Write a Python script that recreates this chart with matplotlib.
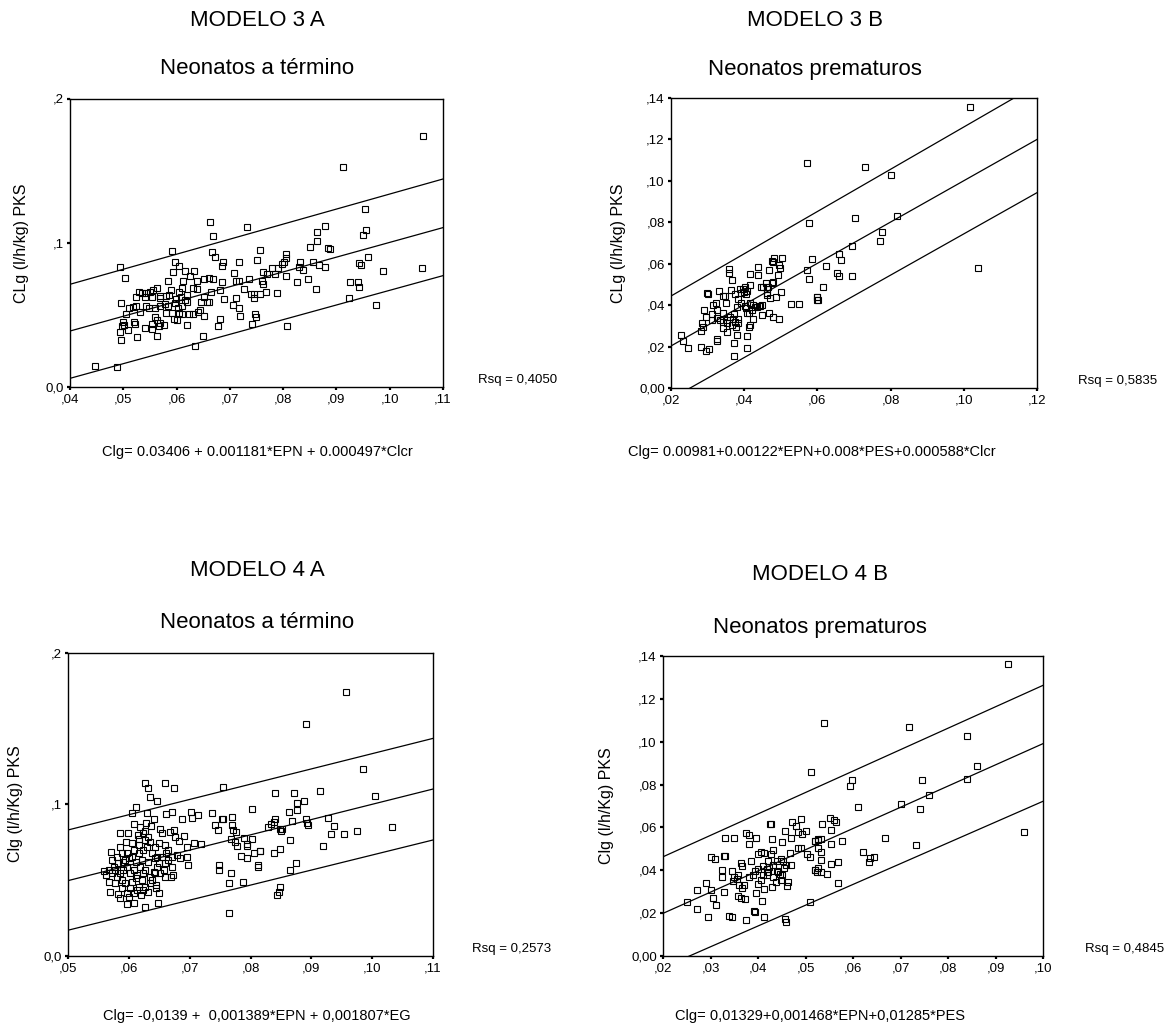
import matplotlib
matplotlib.use("Agg")
import matplotlib.pyplot as plt

plt.rcParams['font.family'] = ['Liberation Sans', 'DejaVu Sans']

W, H = 1176, 1028

# ---------------- data -----------------
tl_points = [
    (0.0447,0.0148),(0.0489,0.0136),(0.0494,0.0832),(0.0503,0.0756),(0.0591,0.0943),
    (0.0663,0.1142),(0.0668,0.1049),(0.0733,0.1107),(0.0666,0.0938),(0.0672,0.0901),
    (0.0688,0.0867),(0.0686,0.0841),(0.0717,0.0867),(0.0756,0.0952),(0.0751,0.0883),
    (0.0597,0.0869),(0.0594,0.0800),(0.0605,0.0841),(0.0616,0.0806),(0.0632,0.0806),
    (0.0626,0.0767),(0.0638,0.0737),(0.0651,0.0749),(0.0661,0.0753),(0.0669,0.0746),
    (0.0686,0.0730),(0.0707,0.0788),(0.0711,0.0737),(0.0718,0.0737),(0.0735,0.0746),
    (0.0762,0.0800),(0.0770,0.0781),(0.0760,0.0737),(0.0763,0.0712),
    (0.0584,0.0733),(0.0613,0.0737),(0.0611,0.0684),(0.0605,0.0656),(0.0631,0.0684),
    (0.0639,0.0679),(0.0619,0.0638),(0.0616,0.0603),(0.0608,0.0626),(0.0598,0.0610),
    (0.0590,0.0670),(0.0585,0.0638),
    (0.0529,0.0659),(0.0536,0.0654),(0.0543,0.0654),(0.0550,0.0661),(0.0556,0.0672),
    (0.0563,0.0684),(0.0569,0.0633),(0.0580,0.0633),(0.0569,0.0615),(0.0554,0.0626),
    (0.0541,0.0622),(0.0523,0.0626),
    (0.0496,0.0582),(0.0510,0.0550),(0.0518,0.0557),(0.0524,0.0564),(0.0532,0.0522),
    (0.0543,0.0562),(0.0549,0.0550),(0.0560,0.0545),(0.0569,0.0564),(0.0579,0.0578),
    (0.0583,0.0564),(0.0597,0.0580),(0.0603,0.0545),(0.0610,0.0559),(0.0619,0.0592),
    (0.0646,0.0587),(0.0657,0.0587),(0.0660,0.0587),(0.0652,0.0624),(0.0665,0.0661),
    (0.0682,0.0670),(0.0689,0.0612),(0.0712,0.0617),(0.0726,0.0679),(0.0740,0.0647),
    (0.0746,0.0647),(0.0746,0.0617),(0.0757,0.0647),(0.0767,0.0661),(0.0705,0.0566),
    (0.0717,0.0548),(0.0719,0.0490),
    (0.0505,0.0506),(0.0500,0.0448),(0.0501,0.0427),(0.0498,0.0421),(0.0509,0.0395),
    (0.0522,0.0437),(0.0520,0.0448),(0.0540,0.0407),(0.0553,0.0437),(0.0554,0.0404),
    (0.0567,0.0423),(0.0569,0.0444),(0.0576,0.0430),(0.0560,0.0488),(0.0563,0.0464),
    (0.0581,0.0515),(0.0591,0.0515),(0.0596,0.0471),(0.0601,0.0462),(0.0605,0.0515),
    (0.0611,0.0506),(0.0624,0.0506),(0.0630,0.0504),(0.0640,0.0522),(0.0644,0.0531),
    (0.0651,0.0490),(0.0681,0.0474),(0.0677,0.0421),(0.0748,0.0506),(0.0749,0.0483),
    (0.0742,0.0437),(0.0619,0.0430),
    (0.0494,0.0384),(0.0496,0.0326),(0.0526,0.0344),(0.0563,0.0354),(0.0649,0.0351),
    (0.0635,0.0284),
    (0.1062,0.1742),(0.0912,0.1527),(0.0954,0.1236),(0.0955,0.1091),(0.0949,0.1056),
    (0.0879,0.1116),(0.0863,0.1072),(0.0863,0.1014),(0.0851,0.0971),(0.0885,0.0961),
    (0.0888,0.0954),(0.0960,0.0901),(0.0942,0.0860),(0.0947,0.0848),(0.0988,0.0806),
    (0.1061,0.0825),
    (0.0805,0.0920),(0.0805,0.0892),(0.0802,0.0864),(0.0797,0.0850),(0.0780,0.0823),
    (0.0791,0.0823),(0.0784,0.0781),(0.0805,0.0772),(0.0832,0.0869),(0.0830,0.0834),
    (0.0837,0.0813),(0.0856,0.0869),(0.0867,0.0843),(0.0879,0.0832),(0.0826,0.0730),
    (0.0847,0.0746),(0.0861,0.0679),(0.0925,0.0730),(0.0940,0.0730),(0.0942,0.0696),
    (0.0923,0.0619),(0.0974,0.0566),(0.0788,0.0652),(0.0807,0.0421),
]

tr_points = [
    (0.0572,0.1088),(0.0578,0.0795),(0.0584,0.0621),(0.0571,0.0568),(0.0578,0.0525),
    (0.0598,0.0441),(0.0600,0.0425),
    (0.0227,0.0256),(0.0232,0.0229),(0.0246,0.0191),(0.0282,0.0196),(0.0295,0.0179),
    (0.0304,0.0188),(0.0325,0.0237),(0.0325,0.0229),(0.0285,0.0315),(0.0287,0.0293),
    (0.0281,0.0277),(0.0291,0.0377),(0.0295,0.0344),(0.0299,0.0457),(0.0302,0.0454),
    (0.0330,0.0468),(0.0314,0.0401),(0.0311,0.0357),(0.0311,0.0328),(0.0327,0.0340),
    (0.0325,0.0377),(0.0323,0.0409),(0.0350,0.0409),(0.0343,0.0364),(0.0341,0.0320),
    (0.0352,0.0269),(0.0358,0.0555),(0.0358,0.0574),(0.0368,0.0521),(0.0372,0.0357),
    (0.0379,0.0393),(0.0372,0.0216),(0.0372,0.0154),(0.0366,0.0304),(0.0361,0.0344),
    (0.0370,0.0331),(0.0375,0.0320),(0.0378,0.0296),(0.0384,0.0312),(0.0382,0.0428),
    (0.0391,0.0457),(0.0389,0.0476),(0.0397,0.0476),(0.0399,0.0463),(0.0402,0.0486),
    (0.0405,0.0454),(0.0409,0.0470),(0.0416,0.0497),(0.0416,0.0409),(0.0416,0.0304),
    (0.0412,0.0296),(0.0409,0.0253),(0.0407,0.0191),(0.0405,0.0386),(0.0402,0.0396),
    (0.0407,0.0360),(0.0414,0.0360),(0.0422,0.0377),(0.0425,0.0333),(0.0423,0.0399),
    (0.0430,0.0393),(0.0434,0.0393),(0.0440,0.0396),(0.0443,0.0396),(0.0448,0.0401),
    (0.0449,0.0352),(0.0416,0.0549),(0.0437,0.0546),(0.0437,0.0586),(0.0446,0.0489),
    (0.0452,0.0489),(0.0460,0.0505),(0.0461,0.0476),(0.0463,0.0457),(0.0461,0.0449),
    (0.0466,0.0489),(0.0470,0.0433),(0.0469,0.0364),(0.0480,0.0344),(0.0496,0.0333),
    (0.0475,0.0505),(0.0480,0.0513),(0.0477,0.0615),(0.0481,0.0626),(0.0480,0.0607),
    (0.0469,0.0570),(0.0495,0.0594),(0.0498,0.0578),(0.0493,0.0546),(0.0504,0.0626),
    (0.0500,0.0465),(0.0486,0.0441),(0.0527,0.0404),(0.0551,0.0404),(0.0384,0.0335),
    (0.0379,0.0256),(0.0352,0.0328),(0.0334,0.0328),(0.0343,0.0288),(0.0348,0.0444),
    (0.0343,0.0444),(0.0352,0.0312),(0.0363,0.0473),(0.0375,0.0454),(0.0390,0.0409),
    (0.1018,0.1355),(0.0730,0.1069),(0.0801,0.1027),(0.0703,0.0822),(0.0818,0.0830),
    (0.0777,0.0751),(0.0771,0.0710),(0.0694,0.0687),(0.0659,0.0649),(0.0664,0.0620),
    (0.0623,0.0591),(0.0653,0.0555),(0.0660,0.0542),(0.0694,0.0542),(0.0615,0.0488),
    (0.0598,0.0439),(0.0602,0.0423),(0.1038,0.0578),
]

bl_points = [
    (0.0957,0.1743),(0.0891,0.1527),(0.0985,0.1235),(0.1004,0.1055),(0.0915,0.1090),
    (0.0840,0.1073),(0.0871,0.1073),(0.0888,0.1020),(0.0877,0.1011),(0.0877,0.0960),
    (0.0863,0.0949),(0.0868,0.0892),(0.0891,0.0901),(0.0893,0.0879),(0.0894,0.0862),
    (0.0927,0.0908),(0.0937,0.0857),(0.0933,0.0804),(0.0953,0.0804),(0.0975,0.0822),
    (0.1032,0.0848),(0.0841,0.0901),(0.0838,0.0886),(0.0833,0.0868),(0.0829,0.0853),
    (0.0848,0.0837),(0.0851,0.0840),(0.0850,0.0826),(0.0865,0.0763),(0.0919,0.0727),
    (0.0816,0.0695),(0.0839,0.0677),(0.0849,0.0708),(0.0812,0.0589),(0.0875,0.0615),
    (0.0865,0.0565),(0.0848,0.0453),(0.0844,0.0402),(0.0847,0.0424),
    (0.0626,0.1143),(0.0632,0.1108),(0.0660,0.1143),(0.0674,0.1108),(0.0635,0.1051),
    (0.0646,0.1020),(0.0754,0.1114),
    (0.0611,0.0980),(0.0605,0.0945),(0.0630,0.0945),(0.0661,0.0936),(0.0671,0.0949),
    (0.0702,0.0952),(0.0713,0.0930),(0.0704,0.0908),(0.0736,0.0945),(0.0753,0.0901),
    (0.0769,0.0919),(0.0803,0.0969),(0.0687,0.0901),
    (0.0609,0.0868),(0.0628,0.0879),(0.0642,0.0901),(0.0637,0.0857),(0.0626,0.0826),
    (0.0623,0.0813),(0.0585,0.0809),(0.0598,0.0813),(0.0596,0.0754),(0.0615,0.0798),
    (0.0617,0.0774),(0.0652,0.0835),(0.0654,0.0809),(0.0668,0.0818),(0.0674,0.0831),
    (0.0676,0.0787),(0.0683,0.0756),(0.0691,0.0789),(0.0696,0.0721),(0.0707,0.0747),
    (0.0718,0.0738),(0.0742,0.0864),(0.0746,0.0831),(0.0754,0.0901),(0.0769,0.0862),
    (0.0772,0.0831),(0.0776,0.0818),(0.0768,0.0769),(0.0775,0.0754),(0.0778,0.0727),
    (0.0790,0.0778),(0.0795,0.0738),(0.0802,0.0769),(0.0795,0.0727),(0.0816,0.0695),
    (0.0805,0.0681),(0.0784,0.0659),(0.0795,0.0644),(0.0812,0.0598),(0.0698,0.0598),
    (0.0748,0.0598),(0.0748,0.0567),(0.0768,0.0547),(0.0764,0.0479),(0.0787,0.0486),
    (0.0670,0.0523),(0.0659,0.0519),(0.0645,0.0468),(0.0649,0.0413),(0.0627,0.0325),
    (0.0609,0.0347),(0.0597,0.0343),(0.0648,0.0347),(0.0765,0.0281),
    (0.0571,0.0686),(0.0560,0.0563),(0.0562,0.0532),(0.0568,0.0486),(0.0569,0.0420),
    (0.0583,0.0409),(0.0586,0.0380),(0.0601,0.0391),(0.0602,0.0446),(0.0616,0.0457),
    (0.0620,0.0402),(0.0632,0.0424),(0.0635,0.0479),(0.0644,0.0446),(0.0581,0.0655),
    (0.0589,0.0677),(0.0594,0.0633),(0.0605,0.0655),(0.0616,0.0677),(0.0623,0.0699),
    (0.0630,0.0721),(0.0635,0.0754),(0.0638,0.0677),(0.0643,0.0644),(0.0649,0.0611),
    (0.0654,0.0655),(0.0661,0.0677),(0.0665,0.0633),(0.0671,0.0655),(0.0679,0.0666),
    (0.0684,0.0644),(0.0695,0.0655),(0.0586,0.0545),(0.0591,0.0567),(0.0597,0.0589),
    (0.0602,0.0545),(0.0608,0.0567),(0.0613,0.0534),(0.0619,0.0589),(0.0624,0.0545),
    (0.0627,0.0567),(0.0635,0.0523),(0.0641,0.0556),(0.0646,0.0589),(0.0575,0.0589),
    (0.0580,0.0523),(0.0589,0.0501),(0.0594,0.0479),(0.0605,0.0490),(0.0611,0.0512),
    (0.0621,0.0501),(0.0627,0.0457),(0.0578,0.0567),(0.0583,0.0611),(0.0591,0.0622),
    (0.0600,0.0644),(0.0611,0.0622),(0.0621,0.0633),(0.0632,0.0622),(0.0643,0.0545),
    (0.0652,0.0545),(0.0657,0.0567),(0.0572,0.0545),(0.0578,0.0479),(0.0589,0.0446),
    (0.0597,0.0413),(0.0608,0.0413),(0.0613,0.0435),(0.0624,0.0435),(0.0638,0.0501),
    (0.0586,0.0721),(0.0605,0.0743),(0.0616,0.0732),(0.0627,0.0765),(0.0619,0.0853),
    (0.0632,0.0787),(0.0643,0.0721),(0.0649,0.0743),(0.0660,0.0732),(0.0665,0.0699),
    (0.0608,0.0699),(0.0597,0.0677),(0.0567,0.0567),(0.0572,0.0633),(0.0646,0.0655),
    (0.0660,0.0611),(0.0671,0.0589),(0.0673,0.0534),
]

br_points = [
    (0.0511,0.0859),
    (0.0251,0.0250),(0.0272,0.0219),(0.0295,0.0183),(0.0338,0.0186),(0.0346,0.0183),
    (0.0375,0.0168),(0.0392,0.0210),(0.0394,0.0204),(0.0413,0.0183),(0.0456,0.0172),
    (0.0458,0.0160),
    (0.0271,0.0308),(0.0290,0.0339),(0.0300,0.0308),(0.0305,0.0269),(0.0311,0.0238),
    (0.0300,0.0460),(0.0309,0.0452),(0.0328,0.0465),(0.0331,0.0468),(0.0324,0.0401),
    (0.0325,0.0370),(0.0328,0.0300),(0.0346,0.0396),(0.0349,0.0370),(0.0358,0.0378),
    (0.0347,0.0350),(0.0356,0.0359),(0.0365,0.0432),(0.0367,0.0421),(0.0361,0.0331),
    (0.0366,0.0319),(0.0370,0.0331),(0.0372,0.0266),(0.0357,0.0278),(0.0364,0.0269),
    (0.0331,0.0552),(0.0349,0.0552),(0.0374,0.0575),(0.0380,0.0567),(0.0380,0.0522),
    (0.0396,0.0552),(0.0386,0.0443),(0.0382,0.0370),(0.0389,0.0378),(0.0399,0.0404),
    (0.0401,0.0476),(0.0407,0.0486),(0.0412,0.0482),(0.0400,0.0334),(0.0396,0.0292),
    (0.0409,0.0256),(0.0413,0.0315),(0.0419,0.0406),(0.0427,0.0474),(0.0422,0.0444),
    (0.0418,0.0378),(0.0423,0.0415),(0.0429,0.0323),(0.0432,0.0494),(0.0432,0.0370),
    (0.0439,0.0396),(0.0442,0.0390),(0.0446,0.0385),(0.0448,0.0354),(0.0451,0.0378),
    (0.0455,0.0409),(0.0458,0.0424),(0.0453,0.0443),(0.0449,0.0455),(0.0462,0.0328),
    (0.0463,0.0347),(0.0430,0.0544),(0.0426,0.0615),(0.0428,0.0618),(0.0451,0.0533),
    (0.0456,0.0583),(0.0470,0.0552),(0.0472,0.0626),(0.0481,0.0608),(0.0484,0.0580),
    (0.0491,0.0639),(0.0493,0.0569),(0.0502,0.0584),(0.0484,0.0505),(0.0491,0.0505),
    (0.0503,0.0474),(0.0509,0.0463),(0.0519,0.0538),(0.0527,0.0544),(0.0519,0.0401),
    (0.0525,0.0393),(0.0509,0.0250),(0.0467,0.0479),(0.0470,0.0427),(0.0393,0.0396),
    (0.0411,0.0421),(0.0439,0.0443),(0.0432,0.0427),(0.0421,0.0393),(0.0437,0.0347),
    (0.0411,0.0378),(0.0407,0.0354),
    (0.0926,0.1361),(0.0538,0.1088),(0.0718,0.1071),(0.0839,0.1029),(0.0860,0.0889),
    (0.0841,0.0828),(0.0745,0.0822),(0.0598,0.0822),(0.0594,0.0794),(0.0761,0.0751),
    (0.0702,0.0709),(0.0742,0.0685),(0.0611,0.0696),(0.0535,0.0617),(0.0551,0.0646),
    (0.0559,0.0637),(0.0564,0.0626),(0.0554,0.0587),(0.0519,0.0539),(0.0526,0.0541),
    (0.0533,0.0544),(0.0576,0.0539),(0.0554,0.0521),(0.0667,0.0552),(0.0527,0.0503),
    (0.0533,0.0485),(0.0622,0.0485),(0.0636,0.0458),(0.0644,0.0462),(0.0634,0.0437),
    (0.0533,0.0448),(0.0554,0.0430),(0.0568,0.0437),(0.0527,0.0413),(0.0519,0.0401),
    (0.0533,0.0392),(0.0546,0.0382),(0.0568,0.0340),(0.0732,0.0516),(0.0959,0.0577),
]

# fitted line and prediction bands (read at the panel edges)
tl_fit_x = [0.04, 0.11]; tl_fit_mid = [0.0388, 0.1105]; tl_fit_hi = [0.0712, 0.1442]; tl_fit_lo = [0.0060, 0.0772]
tr_fit_x = [0.02, 0.12]; tr_fit_mid = [0.0203, 0.1200]; tr_fit_hi = [0.0444, 0.1464]; tr_fit_lo = [-0.0052, 0.0943]
bl_fit_x = [0.05, 0.11]; bl_fit_mid = [0.0497, 0.1101]; bl_fit_hi = [0.0831, 0.1435]; bl_fit_lo = [0.0170, 0.0765]
br_fit_x = [0.02, 0.10]; br_fit_mid = [0.0199, 0.0991]; br_fit_hi = [0.0463, 0.1263]; br_fit_lo = [-0.0054, 0.0722]

tl_xticks = [0.04, 0.05, 0.06, 0.07, 0.08, 0.09, 0.10, 0.11]
tl_xlabels = [',04', ',05', ',06', ',07', ',08', ',09', ',10', ',11']
tl_yticks = [0.0, 0.1, 0.2]
tl_ylabels = ['0,0', ',1', ',2']
tr_xticks = [0.02, 0.04, 0.06, 0.08, 0.10, 0.12]
tr_xlabels = [',02', ',04', ',06', ',08', ',10', ',12']
tr_yticks = [0.0, 0.02, 0.04, 0.06, 0.08, 0.10, 0.12, 0.14]
tr_ylabels = ['0,00', ',02', ',04', ',06', ',08', ',10', ',12', ',14']
bl_xticks = [0.05, 0.06, 0.07, 0.08, 0.09, 0.10, 0.11]
bl_xlabels = [',05', ',06', ',07', ',08', ',09', ',10', ',11']
bl_yticks = tl_yticks
bl_ylabels = tl_ylabels
br_xticks = [0.02, 0.03, 0.04, 0.05, 0.06, 0.07, 0.08, 0.09, 0.10]
br_xlabels = [',02', ',03', ',04', ',05', ',06', ',07', ',08', ',09', ',10']
br_yticks = tr_yticks
br_ylabels = tr_ylabels

# ---------------- drawing -----------------
fig = plt.figure(figsize=(W / 100, H / 100), dpi=100)
fig.patch.set_facecolor('white')


def ftext(x, y, s, **kw):
    fig.text(x / W, 1 - y / H, s, **kw)


def panel(box, xlim, ylim, pts, fx, fmid, fhi, flo, xt, xl, yt, yl):
    l, t, r, b = box
    ax = fig.add_axes([l / W, 1 - b / H, (r - l) / W, (b - t) / H])
    xs = [p[0] for p in pts]
    ys = [p[1] for p in pts]
    ax.plot(xs, ys, linestyle='none', marker='s', ms=4.3, mfc='none',
            mec='black', mew=0.8)
    for yy in (fmid, fhi, flo):
        ax.plot(fx, yy, color='black', lw=0.9)
    ax.set_xlim(*xlim)
    ax.set_ylim(*ylim)
    ax.set_xticks(xt)
    ax.set_xticklabels(xl)
    ax.set_yticks(yt)
    ax.set_yticklabels(yl)
    ax.tick_params(direction='out', length=2.5, width=1.6, labelsize=9.5,
                   pad=2, colors='black')
    for sp in ax.spines.values():
        sp.set_linewidth(1.0)
        sp.set_color('black')
    return ax


# top-left
panel((70, 98.5, 443, 387), (0.04, 0.11), (0.0, 0.2), tl_points,
      tl_fit_x, tl_fit_mid, tl_fit_hi, tl_fit_lo,
      tl_xticks, tl_xlabels, tl_yticks, tl_ylabels)
# top-right
panel((671, 98, 1037, 388), (0.02, 0.12), (0.0, 0.14), tr_points,
      tr_fit_x, tr_fit_mid, tr_fit_hi, tr_fit_lo,
      tr_xticks, tr_xlabels, tr_yticks, tr_ylabels)
# bottom-left
panel((68, 652.7, 433, 956), (0.05, 0.11), (0.0, 0.2), bl_points,
      bl_fit_x, bl_fit_mid, bl_fit_hi, bl_fit_lo,
      bl_xticks, bl_xlabels, bl_yticks, bl_ylabels)
# bottom-right
panel((663, 656, 1043, 956), (0.02, 0.10), (0.0, 0.14), br_points,
      br_fit_x, br_fit_mid, br_fit_hi, br_fit_lo,
      br_xticks, br_xlabels, br_yticks, br_ylabels)

tfs = 16
ftext(257, 21, 'MODELO 3 A', ha='center', va='center', fontsize=tfs)
ftext(257, 69, 'Neonatos a término', ha='center', va='center', fontsize=tfs)
ftext(815, 21, 'MODELO 3 B', ha='center', va='center', fontsize=tfs)
ftext(815, 69, 'Neonatos prematuros', ha='center', va='center', fontsize=tfs)
ftext(257, 570, 'MODELO 4 A', ha='center', va='center', fontsize=tfs)
ftext(257, 623, 'Neonatos a término', ha='center', va='center', fontsize=tfs)
ftext(820, 574, 'MODELO 4 B', ha='center', va='center', fontsize=tfs)
ftext(820, 627, 'Neonatos prematuros', ha='center', va='center', fontsize=tfs)

yfs = 11.5
ftext(22, 243, 'CLg (l/h/kg) PKS', ha='center', va='center', rotation=90, fontsize=yfs)
ftext(618, 243, 'CLg (l/h/kg) PKS', ha='center', va='center', rotation=90, fontsize=yfs)
ftext(16, 804, 'Clg (l/h/Kg) PKS', ha='center', va='center', rotation=90, fontsize=yfs)
ftext(607, 806, 'Clg (l/h/Kg) PKS', ha='center', va='center', rotation=90, fontsize=yfs)

rfs = 9.5
ftext(478, 380, 'Rsq = 0,4050', ha='left', va='center', fontsize=rfs)
ftext(1078, 381, 'Rsq = 0,5835', ha='left', va='center', fontsize=rfs)
ftext(472, 949, 'Rsq = 0,2573', ha='left', va='center', fontsize=rfs)
ftext(1085, 949, 'Rsq = 0,4845', ha='left', va='center', fontsize=rfs)

efs = 10.5
ftext(257, 452, 'Clg= 0.03406 + 0.001181*EPN + 0.000497*Clcr', ha='center', va='center', fontsize=efs)
ftext(812, 452, 'Clg= 0.00981+0.00122*EPN+0.008*PES+0.000588*Clcr', ha='center', va='center', fontsize=efs)
ftext(257, 1016, 'Clg= -0,0139 +  0,001389*EPN + 0,001807*EG', ha='center', va='center', fontsize=efs)
ftext(820, 1016, 'Clg= 0,01329+0,001468*EPN+0,01285*PES', ha='center', va='center', fontsize=efs)

fig.savefig('out.png', dpi=100, facecolor='white')
